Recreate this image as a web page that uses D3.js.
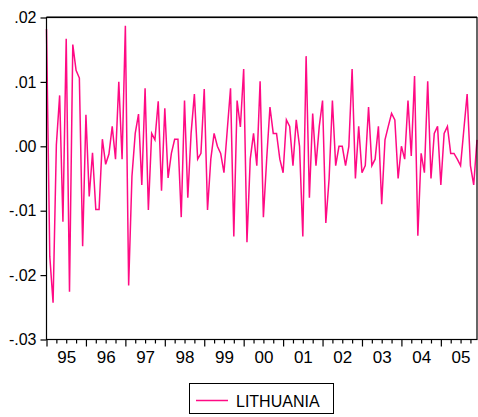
<!DOCTYPE html>
<html>
<head>
<meta charset="utf-8">
<script src="https://cdn.jsdelivr.net/npm/d3@7"></script>
<style>
  html, body { margin: 0; padding: 0; background: #fff; }
  svg { display: block; }
  text { font-family: Arial, "Liberation Sans", sans-serif; fill: #000; }
</style>
</head>
<body>
<svg id="chart" width="478" height="417"></svg>
<script>
// ========= Data =========
// monthly series, 1995m01 .. 2005m12
const startYear = 1995;
const seriesName = "LITHUANIA";
const values = [
  0.0182, -0.0171, -0.0243, 0.0002, 0.0079, -0.0117, 0.0167, -0.0226, 0.0158, 0.0118, 0.0106, -0.0155,
  0.0049, -0.0078, -0.0010, -0.0098, -0.0098, 0.0011, -0.0028, -0.0012, 0.0031, -0.0020, 0.0100, -0.0020,
  0.0187, -0.0216, -0.0047, 0.0020, 0.0050, -0.0060, 0.0090, -0.0099, 0.0020, 0.0010, 0.0070, -0.0069,
  0.0059, -0.0049, -0.0011, 0.0011, 0.0011, -0.0110, 0.0071, -0.0080, 0.0020, 0.0081, -0.0020, -0.0011,
  0.0089, -0.0099, -0.0020, 0.0020, 0.0000, -0.0011, -0.0041, 0.0025, 0.0090, -0.0140, 0.0071, 0.0030,
  0.0120, -0.0149, -0.0020, 0.0020, -0.0030, 0.0101, -0.0110, -0.0020, 0.0061, 0.0020, 0.0020, -0.0020,
  -0.0041, 0.0041, 0.0031, -0.0030, 0.0041, 0.0000, -0.0140, 0.0140, -0.0080, 0.0051, -0.0030, 0.0031,
  0.0071, -0.0119, -0.0050, 0.0071, -0.0030, 0.0000, 0.0000, -0.0030, 0.0000, 0.0120, -0.0050, 0.0031,
  -0.0041, -0.0030, 0.0061, -0.0030, -0.0020, 0.0031, -0.0090, 0.0010, 0.0031, 0.0051, 0.0041, -0.0050,
  0.0000, -0.0020, 0.0071, -0.0015, 0.0109, -0.0139, -0.0011, -0.0041, 0.0101, -0.0050, 0.0020, 0.0031,
  -0.0060, 0.0020, 0.0031, -0.0011, -0.0011, -0.0020, -0.0030, 0.0026, 0.0081, -0.0030, -0.0060, 0.0010
];
const yTicks = [0.02, 0.01, 0.00, -0.01, -0.02, -0.03];
const yTickLabels = [".02", ".01", ".00", "-.01", "-.02", "-.03"];
const yearLabels = ["95", "96", "97", "98", "99", "00", "01", "02", "03", "04", "05"];

// ========= Layout =========
const plot = { left: 46.5, right: 477, top: 17.5, bottom: 339.5 };
const color = "#ff0a84";

const svg = d3.select("#chart");

const x = d3.scaleLinear()
  .domain([0, values.length - 1])
  .range([plot.left, plot.right]);

const y = d3.scaleLinear()
  .domain([-0.03, 0.02])
  .range([plot.bottom, plot.top]);

// ========= Series line =========
const line = d3.line()
  .x((d, i) => x(i))
  .y(d => y(d));

svg.append("path")
  .datum(values)
  .attr("fill", "none")
  .attr("stroke", color)
  .attr("stroke-width", 1.5)
  .attr("stroke-linejoin", "miter")
  .attr("d", line);

// ========= Frame =========
svg.append("rect")
  .attr("x", plot.left)
  .attr("y", plot.top)
  .attr("width", plot.right - plot.left)
  .attr("height", plot.bottom - plot.top)
  .attr("fill", "none")
  .attr("stroke", "#000")
  .attr("stroke-width", 1.2);

// top edge looks heavier in the original
svg.append("line")
  .attr("x1", plot.left)
  .attr("x2", plot.right)
  .attr("y1", plot.top - 0.5)
  .attr("y2", plot.top - 0.5)
  .attr("stroke", "#000")
  .attr("stroke-width", 1);

// ========= Y axis =========
const yAxis = svg.append("g")
  .attr("transform", `translate(${plot.left},0)`)
  .call(d3.axisLeft(y)
    .tickValues(yTicks)
    .tickFormat((d, i) => yTickLabels[i])
    .tickSize(6)
    .tickSizeOuter(0)
    .tickPadding(4));
yAxis.select(".domain").remove();
yAxis.selectAll("line").attr("stroke", "#000").attr("stroke-width", 1.2);
yAxis.selectAll("text")
  .attr("font-size", 16)
  .attr("font-family", "Arial, 'Liberation Sans', sans-serif");

// ========= X axis =========
const months = d3.range(0, values.length + 1);
const minorTicks = months.filter(m => m % 3 === 0 && m % 12 !== 0 && m < values.length);
const majorTicks = months.filter(m => m % 12 === 0 && m < values.length);
const labelPos = yearLabels.map((d, i) => i * 12 + 6);

const xMinor = svg.append("g")
  .attr("transform", `translate(0,${plot.bottom})`)
  .call(d3.axisBottom(x).tickValues(minorTicks).tickFormat("").tickSize(4).tickSizeOuter(0));
xMinor.select(".domain").remove();

const xMajor = svg.append("g")
  .attr("transform", `translate(0,${plot.bottom})`)
  .call(d3.axisBottom(x).tickValues(majorTicks).tickFormat("").tickSize(7).tickSizeOuter(0));
xMajor.select(".domain").remove();

svg.selectAll(".tick line").attr("stroke", "#000").attr("stroke-width", 1.2);

const xLabels = svg.append("g")
  .attr("transform", `translate(0,${plot.bottom})`)
  .call(d3.axisBottom(x)
    .tickValues(labelPos)
    .tickFormat((d, i) => yearLabels[i])
    .tickSize(0)
    .tickPadding(11));
xLabels.select(".domain").remove();
xLabels.selectAll("text")
  .attr("font-size", 17)
  .attr("font-family", "Arial, 'Liberation Sans', sans-serif");

// ========= Legend =========
const legend = svg.append("g");
legend.append("rect")
  .attr("x", 189.5)
  .attr("y", 383.5)
  .attr("width", 144)
  .attr("height", 30)
  .attr("fill", "#fff")
  .attr("stroke", "#000")
  .attr("stroke-width", 1);
legend.append("line")
  .attr("x1", 196)
  .attr("x2", 228)
  .attr("y1", 400.5)
  .attr("y2", 400.5)
  .attr("stroke", color)
  .attr("stroke-width", 1.5);
legend.append("text")
  .attr("x", 236)
  .attr("y", 406.5)
  .attr("font-size", 16)
  .text(seriesName);
</script>
</body>
</html>
